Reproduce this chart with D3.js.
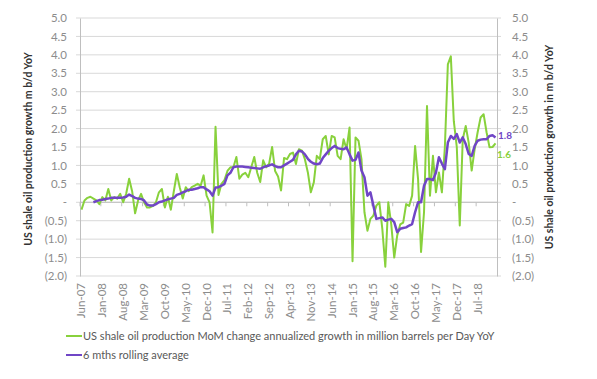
<!DOCTYPE html>
<html><head><meta charset="utf-8">
<script src="https://cdn.jsdelivr.net/npm/d3@7"></script>
<style>
body{margin:0;background:#fff}
text{font-family:Lato,"Open Sans",sans-serif}
</style>
</head><body>
<svg id="c" width="597" height="379"></svg>
<script>
// Monthly categories Jun-07 .. Jan-19
const startMonth = new Date(2007, 5, 1);
const endMonth = new Date(2019, 0, 1);
const tickLabels = ["Jun-07","Jan-08","Aug-08","Mar-09","Oct-09","May-10","Dec-10","Jul-11","Feb-12","Sep-12","Apr-13","Nov-13","Jun-14","Jan-15","Aug-15","Mar-16","Oct-16","May-17","Dec-17","Jul-18"];
const yTicks = [-2,-1.5,-1,-0.5,0,0.5,1,1.5,2,2.5,3,3.5,4,4.5,5];

const shaleMoM = [
-0.2,0.05,0.12,0.15,0.1,0.05,-0.05,0.14,0.05,0.36,
0.05,0.14,0.1,0.23,0.0,0.23,0.64,0.3,-0.3,0.05,
0.23,0.0,-0.14,-0.14,-0.1,0.0,0.27,0.36,-0.14,0.15,
-0.2,0.3,0.77,0.4,0.1,0.41,0.3,0.41,0.45,0.5,
0.45,0.73,0.18,0.0,-0.82,2.05,0.2,0.5,0.6,0.85,
0.95,0.95,1.23,0.64,0.75,0.8,0.68,0.95,1.23,0.8,
0.55,1.14,0.95,1.05,1.5,0.85,0.7,0.32,1.2,1.17,
1.31,1.35,1.04,1.44,1.4,1.17,0.81,0.27,0.54,1.26,
1.17,1.71,1.8,1.3,1.8,1.76,1.26,1.17,1.71,1.44,
2.03,-1.6,1.76,1.67,1.17,-0.27,-0.77,-0.45,-0.36,-0.09,
0.0,-0.72,-1.75,0.0,-0.6,-1.5,-0.9,-0.6,-0.55,-0.05,
-0.1,0.18,1.53,0.63,-1.35,-0.27,2.61,0.18,1.26,0.27,
0.81,0.27,1.5,3.74,3.96,2.2,1.5,-0.63,1.71,2.07,
1.62,0.86,1.44,1.9,2.3,2.39,1.9,1.49,1.5,1.6
];

const rolling6m = [
null,null,null,null,0.0,0.03,0.06,0.07,0.09,0.1,
0.12,0.12,0.12,0.12,0.13,0.15,0.21,0.17,0.12,0.1,
0.09,0.05,-0.06,-0.09,-0.09,-0.05,0.0,0.02,0.05,0.08,
0.1,0.12,0.2,0.23,0.27,0.3,0.34,0.34,0.36,0.38,
0.41,0.41,0.35,0.3,0.18,0.4,0.41,0.45,0.5,0.73,
0.8,0.95,0.97,0.97,0.97,0.96,0.95,0.94,0.93,0.92,
0.91,0.95,0.98,1.0,1.03,0.98,0.95,0.95,1.0,1.05,
1.1,1.15,1.3,1.4,1.38,1.3,1.18,1.1,1.05,1.03,
1.05,1.2,1.3,1.4,1.47,1.53,1.47,1.45,1.44,1.49,
1.3,1.13,1.15,1.35,0.86,0.68,0.18,0.27,-0.09,-0.45,
-0.43,-0.41,-0.5,-0.47,-0.45,-0.54,-0.81,-0.72,-0.7,-0.68,
-0.63,-0.59,-0.27,0.0,0.0,0.45,0.63,0.63,0.6,0.81,
1.22,1.05,0.9,1.62,1.8,1.72,1.85,1.62,1.76,1.58,
1.31,1.26,1.53,1.67,1.7,1.71,1.71,1.8,1.82,1.76
];

const green = "#88d13c", purple = "#7046c6";
const svg = d3.select("#c");
const months = d3.timeMonths(startMonth, endMonth).concat([endMonth]);
const fmt = d3.timeFormat("%b-%y");
const cats = months.map(fmt);

const L = 80, R = 497, T = 18, B = 276;
const x = d3.scaleBand().domain(cats).range([L, R]).paddingInner(0).paddingOuter(0);
const y = d3.scaleLinear().domain([-2, 5]).range([B, T]);
const cx = c => x(c) + x.bandwidth() / 2;
const yfmt = v => v === 0 ? "-" : (v < 0 ? "(" + (-v).toFixed(1) + ")" : v.toFixed(1));

// gridlines
svg.append("g").selectAll("line").data(yTicks).join("line")
  .attr("x1", L - 4).attr("x2", R + 4)
  .attr("y1", d => y(d)).attr("y2", d => y(d))
  .attr("stroke", "#d9d9d9").attr("stroke-width", 1);

// left axis
const gl = svg.append("g").attr("transform", `translate(${L},0)`)
  .call(d3.axisLeft(y).tickValues(yTicks).tickFormat(yfmt).tickSize(0).tickPadding(13));
gl.select(".domain").attr("stroke", "#bfbfbf");
gl.selectAll("text").attr("fill", "#8c8c8c").style("font-size", "11.5px");

// right axis
const gr = svg.append("g").attr("transform", `translate(${R},0)`)
  .call(d3.axisRight(y).tickValues(yTicks).tickFormat(yfmt).tickSize(0).tickPadding(15));
gr.select(".domain").attr("stroke", "#bfbfbf");
gr.selectAll("text").attr("fill", "#8c8c8c").style("font-size", "11.5px");

// x axis at zero with ticks
const tickCats = tickLabels;
const gx = svg.append("g").attr("transform", `translate(0,${y(0)})`);
gx.append("line").attr("x1", L).attr("x2", R).attr("y1", 0).attr("y2", 0).attr("stroke", "#bfbfbf");
gx.selectAll("line.t").data(tickCats).join("line").attr("class", "t")
  .attr("x1", d => x(d)).attr("x2", d => x(d)).attr("y1", 0).attr("y2", 4)
  .attr("stroke", "#bfbfbf");

// x labels at bottom
svg.append("g").selectAll("text").data(tickCats).join("text")
  .attr("transform", d => `translate(${cx(d) + 4},283) rotate(-90)`)
  .attr("text-anchor", "end")
  .attr("fill", "#8c8c8c").style("font-size", "11.5px")
  .text(d => d);

// lines
const line = d3.line().defined(d => d[1] != null).x(d => cx(d[0])).y(d => y(d[1]));
svg.append("path").datum(cats.map((c, i) => [c, shaleMoM[i]]))
  .attr("d", line).attr("fill", "none").attr("stroke", green).attr("stroke-width", 2)
  .attr("stroke-linejoin", "round");
svg.append("path").datum(cats.map((c, i) => [c, rolling6m[i]]))
  .attr("d", line).attr("fill", "none").attr("stroke", purple).attr("stroke-width", 2.5)
  .attr("stroke-linejoin", "round");

// end labels
const last = cats.length - 1;
svg.append("text").attr("x", R + 1).attr("y", y(rolling6m[last]) + 1.5)
  .attr("fill", purple).style("font-size", "10px").style("font-weight", "bold")
  .text(rolling6m[last].toFixed(1));
svg.append("text").attr("x", R).attr("y", y(shaleMoM[last]) + 14.5)
  .attr("fill", green).style("font-size", "10px").style("font-weight", "bold")
  .text(shaleMoM[last].toFixed(1));

// axis titles
svg.append("text").attr("transform", `translate(32,149) rotate(-90)`)
  .attr("text-anchor", "middle").attr("fill", "#333").style("font-size", "10.5px").style("font-weight", "bold")
  .text("US shale oil production growth m b/d YoY");
svg.append("text").attr("transform", `translate(553,147) rotate(-90)`)
  .attr("text-anchor", "middle").attr("fill", "#333").style("font-size", "10.5px").style("font-weight", "bold")
  .text("US shale oil production growth in m b/d YoY");

// legend
const legend = [
  {label: "US shale oil production MoM change annualized growth in million barrels per Day YoY", color: green, y: 336},
  {label: "6 mths rolling average", color: purple, y: 355}
];
const lg = svg.append("g");
lg.selectAll("line").data(legend).join("line")
  .attr("x1", 66).attr("x2", 82).attr("y1", d => d.y).attr("y2", d => d.y)
  .attr("stroke", d => d.color).attr("stroke-width", 2);
lg.selectAll("text").data(legend).join("text")
  .attr("x", 83).attr("y", d => d.y + 4)
  .attr("fill", "#595959").style("font-size", "11px")
  .text(d => d.label);
</script>
</body></html>
